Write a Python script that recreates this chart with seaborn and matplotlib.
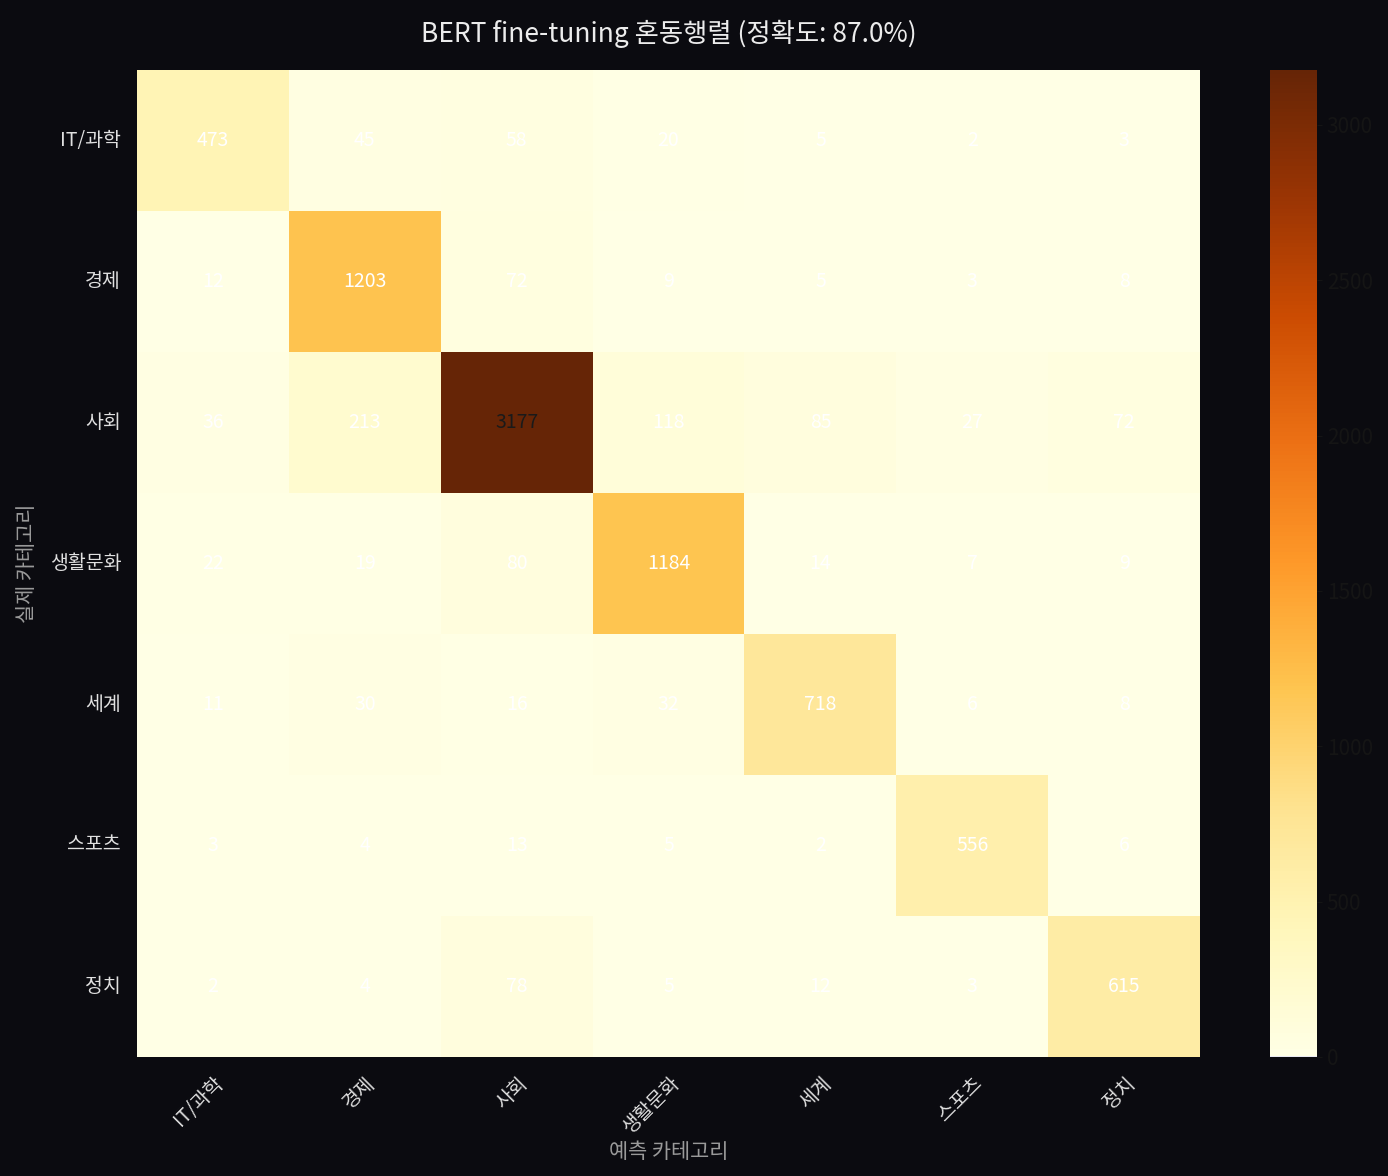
import numpy as np
import pandas as pd
import matplotlib
matplotlib.use("Agg")
import matplotlib.pyplot as plt
import seaborn as sns

# Categories and confusion counts (rows = actual, cols = predicted)
categories = ["IT/과학", "경제", "사회", "생활문화", "세계", "스포츠", "정치"]
row_it = [473, 45, 58, 20, 5, 2, 3]
row_econ = [12, 1203, 72, 9, 5, 3, 8]
row_soc = [36, 213, 3177, 118, 85, 27, 72]
row_life = [22, 19, 80, 1184, 14, 7, 9]
row_world = [11, 30, 16, 32, 718, 6, 8]
row_sport = [3, 4, 13, 5, 2, 556, 6]
row_pol = [2, 4, 78, 5, 12, 3, 615]

cm = pd.DataFrame([row_it, row_econ, row_soc, row_life, row_world, row_sport, row_pol],
                  index=categories, columns=categories)
acc = np.trace(cm.values) / cm.values.sum() * 100

sns.set_style("dark")
plt.rcParams['font.family'] = ['Noto Sans CJK KR', 'DejaVu Sans']
bg = '#0b0b10'

fig = plt.figure(figsize=(13.88, 11.76), dpi=100, facecolor=bg)
ax = fig.add_axes([0.0987, 0.1012, 0.7659, 0.8393])
cax = fig.add_axes([0.915, 0.1012, 0.0339, 0.8393])

sns.heatmap(cm, annot=True, fmt='d', cmap='YlOrBr', ax=ax, cbar_ax=cax,
            annot_kws={'fontsize': 14})

# light cells get white text, the dark one gets dark text
for t in ax.texts:
    t.set_color('#1a1a1a' if int(t.get_text()) > 2000 else 'white')

ax.set_facecolor(bg)
ax.set_title(f"BERT fine-tuning 혼동행렬 (정확도: {acc:.1f}%)", color='#ececec',
             fontsize=19, pad=20)
ax.set_xlabel("예측 카테고리", color='#9a9a9a', fontsize=15, labelpad=2)
ax.set_ylabel("실제 카테고리", color='#9a9a9a', fontsize=15, labelpad=8)
ax.tick_params(colors='#e0e0e0', labelsize=14, pad=8)
plt.setp(ax.get_xticklabels(), rotation=45, ha='right', rotation_mode='anchor')
plt.setp(ax.get_yticklabels(), rotation=0)

cax.tick_params(colors='#151515', labelsize=15)
cax.set_yticks([0, 500, 1000, 1500, 2000, 2500, 3000])

fig.savefig("out.png", dpi=100, facecolor=bg)
